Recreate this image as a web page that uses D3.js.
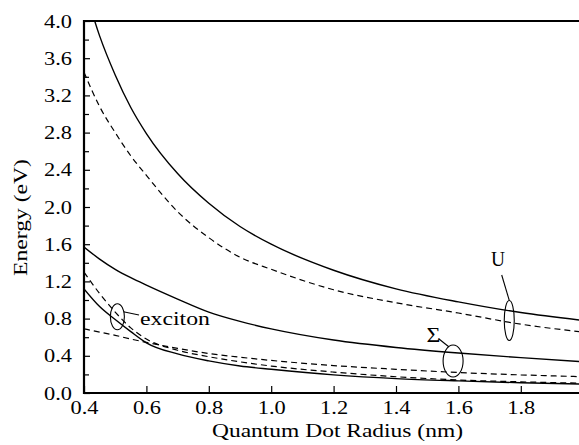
<!DOCTYPE html>
<html><head><meta charset="utf-8">
<script src="https://cdn.jsdelivr.net/npm/d3@7"></script>
<style>
body{margin:0;background:#fff}
text{font-family:"Liberation Serif","Times New Roman",serif;fill:#000}
</style>
</head><body>
<svg id="c" width="579" height="445"></svg>
<script>
// ---- data ----
const radius      = [0.4, 0.45, 0.5, 0.55, 0.6, 0.7, 0.8, 0.9, 1.0, 1.2, 1.4, 1.6, 1.8, 2.0];
const uSolid      = [4.38, 3.84, 3.42, 3.07, 2.79, 2.36, 2.04, 1.79, 1.60, 1.32, 1.12, 0.98, 0.865, 0.78];
const uDashed     = [3.45, 3.08, 2.80, 2.55, 2.34, 1.95, 1.67, 1.46, 1.33, 1.11, 0.97, 0.86, 0.74, 0.655];
const sigmaSolid  = [1.57, 1.44, 1.33, 1.24, 1.16, 1.01, 0.87, 0.77, 0.69, 0.57, 0.49, 0.43, 0.38, 0.335];
const sigmaDashed = [0.69, 0.655, 0.62, 0.58, 0.545, 0.48, 0.425, 0.385, 0.35, 0.295, 0.255, 0.22, 0.195, 0.175];
const excDashed   = [1.30, 1.07, 0.87, 0.70, 0.58, 0.46, 0.39, 0.335, 0.29, 0.225, 0.175, 0.14, 0.12, 0.105];
const excSolid    = [1.12, 0.93, 0.79, 0.66, 0.54, 0.42, 0.345, 0.29, 0.255, 0.195, 0.155, 0.13, 0.11, 0.095];
const xTicks = [0.4, 0.6, 0.8, 1.0, 1.2, 1.4, 1.6, 1.8];
const yTicks = [0.0, 0.4, 0.8, 1.2, 1.6, 2.0, 2.4, 2.8, 3.2, 3.6, 4.0];
const yMinorTicks = [0.2, 0.6, 1.0, 1.4, 1.8, 2.2, 2.6, 3.0, 3.4, 3.8];
const groupLabels = ["U", "\u03A3", "exciton"];

const series = [
  {v: uSolid, dash: null}, {v: uDashed, dash: "6,4"},
  {v: sigmaSolid, dash: null}, {v: sigmaDashed, dash: "6,4"},
  {v: excDashed, dash: "6,4"}, {v: excSolid, dash: null}
];

// ---- layout ----
const svg = d3.select("#c");
const L = 84, T = 21, B = 393, W = 579;
const x = d3.scaleLinear().domain([0.4, 2.0]).range([L, 583.2]);
const y = d3.scaleLinear().domain([0, 4]).range([B, T]);

svg.append("clipPath").attr("id","clip").append("rect")
  .attr("x", L).attr("y", T).attr("width", W - L).attr("height", B - T);

const line = d3.line().x(d => x(d[0])).y(d => y(d[1])).curve(d3.curveMonotoneX);
const g = svg.append("g").attr("clip-path","url(#clip)");
series.forEach(s => {
  g.append("path").datum(radius.map((r,i) => [r, s.v[i]]))
    .attr("d", line).attr("fill","none").attr("stroke","#000")
    .attr("stroke-width", s.dash ? 1.2 : 1.4)
    .attr("stroke-dasharray", s.dash);
});

// frame
svg.append("line").attr("x1",L).attr("x2",W).attr("y1",T).attr("y2",T).attr("stroke","#000").attr("stroke-width",2);
svg.append("line").attr("x1",L).attr("x2",W).attr("y1",B).attr("y2",B).attr("stroke","#000").attr("stroke-width",2);
svg.append("line").attr("x1",L).attr("x2",L).attr("y1",T-1).attr("y2",B+1).attr("stroke","#000").attr("stroke-width",2.2);

// axes
const fs = 19;
const xa = svg.append("g").attr("transform",`translate(0,${B})`)
  .call(d3.axisBottom(x).tickValues(xTicks).tickSizeInner(-7).tickSizeOuter(0).tickPadding(8).tickFormat(d3.format(".1f")));
xa.select(".domain").remove();
xa.selectAll("line").attr("stroke","#000").attr("stroke-width",1.2);
xa.selectAll("text").attr("font-size",fs).attr("font-family",null)
  .attr("textLength",28).attr("lengthAdjust","spacingAndGlyphs");

const ya = svg.append("g").attr("transform",`translate(${L},0)`)
  .call(d3.axisLeft(y).tickValues(yTicks).tickSizeInner(-6).tickSizeOuter(0).tickPadding(12).tickFormat(d3.format(".1f")));
ya.select(".domain").remove();
ya.selectAll("line").attr("stroke","#000").attr("stroke-width",1.2);
ya.selectAll("text").attr("font-size",fs).attr("font-family",null)
  .attr("textLength",28).attr("lengthAdjust","spacingAndGlyphs");
const ym = svg.append("g").attr("transform",`translate(${L},0)`)
  .call(d3.axisLeft(y).tickValues(yMinorTicks).tickSizeInner(-5).tickSizeOuter(0).tickFormat(""));
ym.select(".domain").remove();
ym.selectAll("line").attr("stroke","#000").attr("stroke-width",1.2);

// titles
svg.append("text").attr("x",337.5).attr("y",437).attr("text-anchor","middle")
  .attr("font-size",fs).attr("textLength",251).attr("lengthAdjust","spacingAndGlyphs")
  .text("Quantum Dot Radius (nm)");
svg.append("text").attr("transform","translate(27,217.5) rotate(-90)").attr("text-anchor","middle")
  .attr("font-size",fs).attr("textLength",117).attr("lengthAdjust","spacingAndGlyphs")
  .text("Energy (eV)");

// annotations
const ann = svg.append("g").attr("fill","none").attr("stroke","#000").attr("stroke-width",1.1);
// exciton
ann.append("ellipse").attr("cx",x(0.507)).attr("cy",y(0.82)).attr("rx",7).attr("ry",13);
ann.append("line").attr("x1",x(0.507)+6).attr("y1",y(0.82)-5).attr("x2",139).attr("y2",315);
svg.append("text").attr("x",140).attr("y",325).attr("font-size",fs)
  .attr("textLength",70).attr("lengthAdjust","spacingAndGlyphs").text(groupLabels[2]);
// Sigma
ann.append("ellipse").attr("cx",x(1.583)).attr("cy",y(0.344)).attr("rx",10).attr("ry",16);
ann.append("line").attr("x1",439).attr("y1",339).attr("x2",x(1.583)-4).attr("y2",y(0.344)-14);
svg.append("text").attr("x",x(1.52)).attr("y",342).attr("text-anchor","middle").attr("font-size",21)
  .attr("textLength",14).attr("lengthAdjust","spacingAndGlyphs").text(groupLabels[1]);
// U
ann.append("ellipse").attr("cx",x(1.763)).attr("cy",y(0.78)).attr("rx",5).attr("ry",20);
ann.append("line").attr("x1",501.7).attr("y1",275).attr("x2",x(1.763)).attr("y2",y(0.78)-20);
svg.append("text").attr("x",x(1.727)).attr("y",266).attr("text-anchor","middle").attr("font-size",20)
  .attr("textLength",14).attr("lengthAdjust","spacingAndGlyphs").text(groupLabels[0]);
</script>
</body></html>
